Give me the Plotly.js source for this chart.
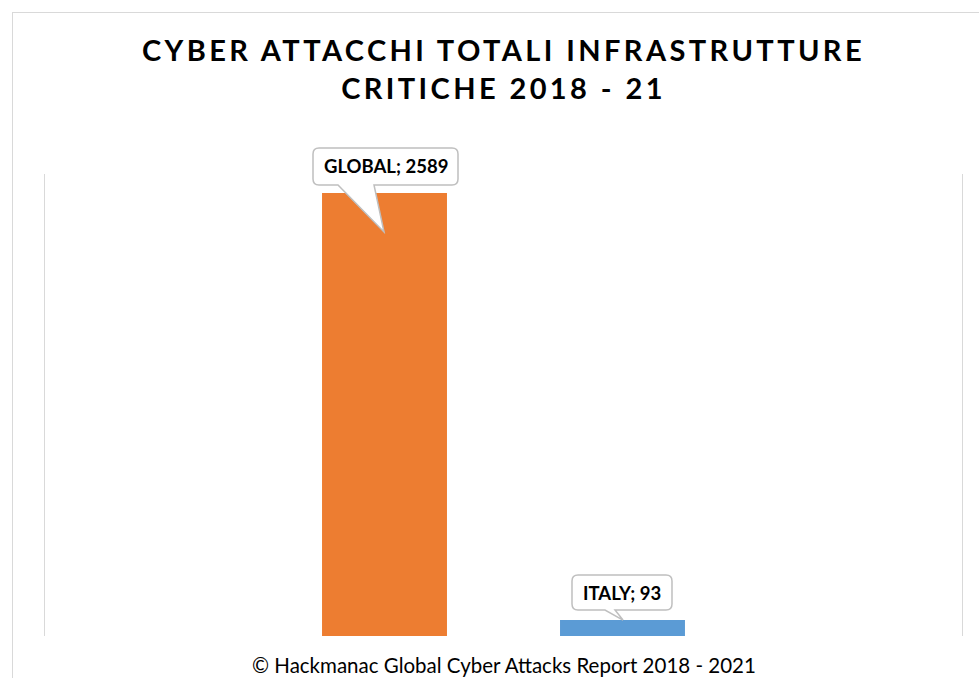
<!DOCTYPE html>
<html>
<head>
<meta charset="utf-8">
<script src="https://cdn.plot.ly/plotly-3.0.1.min.js"></script>
<style>
  body { margin: 0; background: #fff; }
  #wrap { position: relative; width: 979px; height: 678px; overflow: hidden; }
  #frame { position: absolute; left: 12px; top: 12px; width: 1200px; height: 900px;
           border-left: 1px solid #d9d9d9; border-top: 1px solid #d9d9d9; pointer-events: none; }
  .gtitle { letter-spacing: 3.4px; }
</style>
</head>
<body>
<div id="wrap">
  <div id="chart" style="width:979px;height:678px;"></div>
  <div id="frame"></div>
</div>
<script>
// data
const categories = ['GLOBAL', 'ITALY'];
const attacks = [2589, 93];
const barColors = ['#ED7D31', '#5B9BD5'];
const chartTitle = 'CYBER ATTACCHI TOTALI INFRASTRUTTURE<br>CRITICHE 2018 - 21';
const sourceNote = '© Hackmanac Global Cyber Attacks Report 2018 - 2021';

const xRange = [-1.4265, 2.4265];
const yRange = [0, 2700];

// callout geometry in pixels relative to the top centre of each bar (y up)
const callouts = [
    {left: -71.5, right: 73.5, bottom: 8, top: 45, wL: -46.5, wR: -10.5, tipX: -0.5, tipY: -39, textX: 1, textY: 26.5},
    {left: -50.5, right: 49.5, bottom: 10, top: 45, wL: -17.5, wR: -7.5, tipX: 0.5, tipY: 0, textX: -0.5, textY: 27.5}
];

function bubblePath(c) {
    const r = 6;
    const L = c.left, R = c.right, T = c.top, B = c.bottom;
    return `M${L + r},${T} L${R - r},${T} Q${R},${T} ${R},${T - r} L${R},${B + r} Q${R},${B} ${R - r},${B} ` +
           `L${c.wR},${B} L${c.tipX},${c.tipY} L${c.wL},${B} L${L + r},${B} Q${L},${B} ${L},${B + r} ` +
           `L${L},${T - r} Q${L},${T} ${L + r},${T} Z`;
}

// paper-referenced anchors so the bubbles are not clipped by the plot area
const toPaperX = i => (i - xRange[0]) / (xRange[1] - xRange[0]);
const toPaperY = v => (v - yRange[0]) / (yRange[1] - yRange[0]);

const shapes = callouts.map((c, i) => ({
    type: 'path', xref: 'paper', yref: 'paper',
    xsizemode: 'pixel', ysizemode: 'pixel',
    xanchor: toPaperX(i), yanchor: toPaperY(attacks[i]),
    path: bubblePath(c),
    fillcolor: '#ffffff',
    line: {color: '#bfbfbf', width: 1.5},
    layer: 'above'
}));

const annotations = categories.map((cat, i) => ({
    x: i, y: attacks[i], xref: 'x', yref: 'y',
    text: `<b>${cat}; ${attacks[i]}</b>`,
    showarrow: false,
    xanchor: 'center', yanchor: 'middle',
    xshift: callouts[i].textX, yshift: callouts[i].textY,
    font: {family: 'Lato, sans-serif', size: 18.5, color: '#000'}
}));

annotations.push({
    x: 0.5, y: -0.0628, xref: 'paper', yref: 'paper',
    yanchor: 'middle',
    text: sourceNote, showarrow: false,
    font: {family: 'Lato, sans-serif', size: 20.5, color: '#000'}
});

Plotly.newPlot('chart', [{
    type: 'bar',
    x: categories,
    y: attacks,
    marker: {color: barColors},
    width: 0.525,
    hoverinfo: 'x+y'
}], {
    width: 979, height: 678,
    margin: {l: 45, r: 17, t: 174, b: 42},
    paper_bgcolor: 'rgba(0,0,0,0)',
    plot_bgcolor: '#ffffff',
    title: {
        text: chartTitle,
        x: 0.5, xref: 'paper',
        y: 1 - 61 / 678, yref: 'container', yanchor: 'top',
        font: {family: 'Lato, sans-serif', size: 29, weight: 'bold', color: '#000'}
    },
    xaxis: {
        type: 'category',
        range: xRange,
        showticklabels: false, showgrid: false, zeroline: false, showline: false, ticks: ''
    },
    yaxis: {
        range: yRange,
        showticklabels: false, showgrid: false, zeroline: false,
        showline: true, mirror: true, linecolor: '#d9d9d9', linewidth: 1, ticks: ''
    },
    shapes: shapes,
    annotations: annotations,
    showlegend: false
}, {displayModeBar: false});
</script>
</body>
</html>
